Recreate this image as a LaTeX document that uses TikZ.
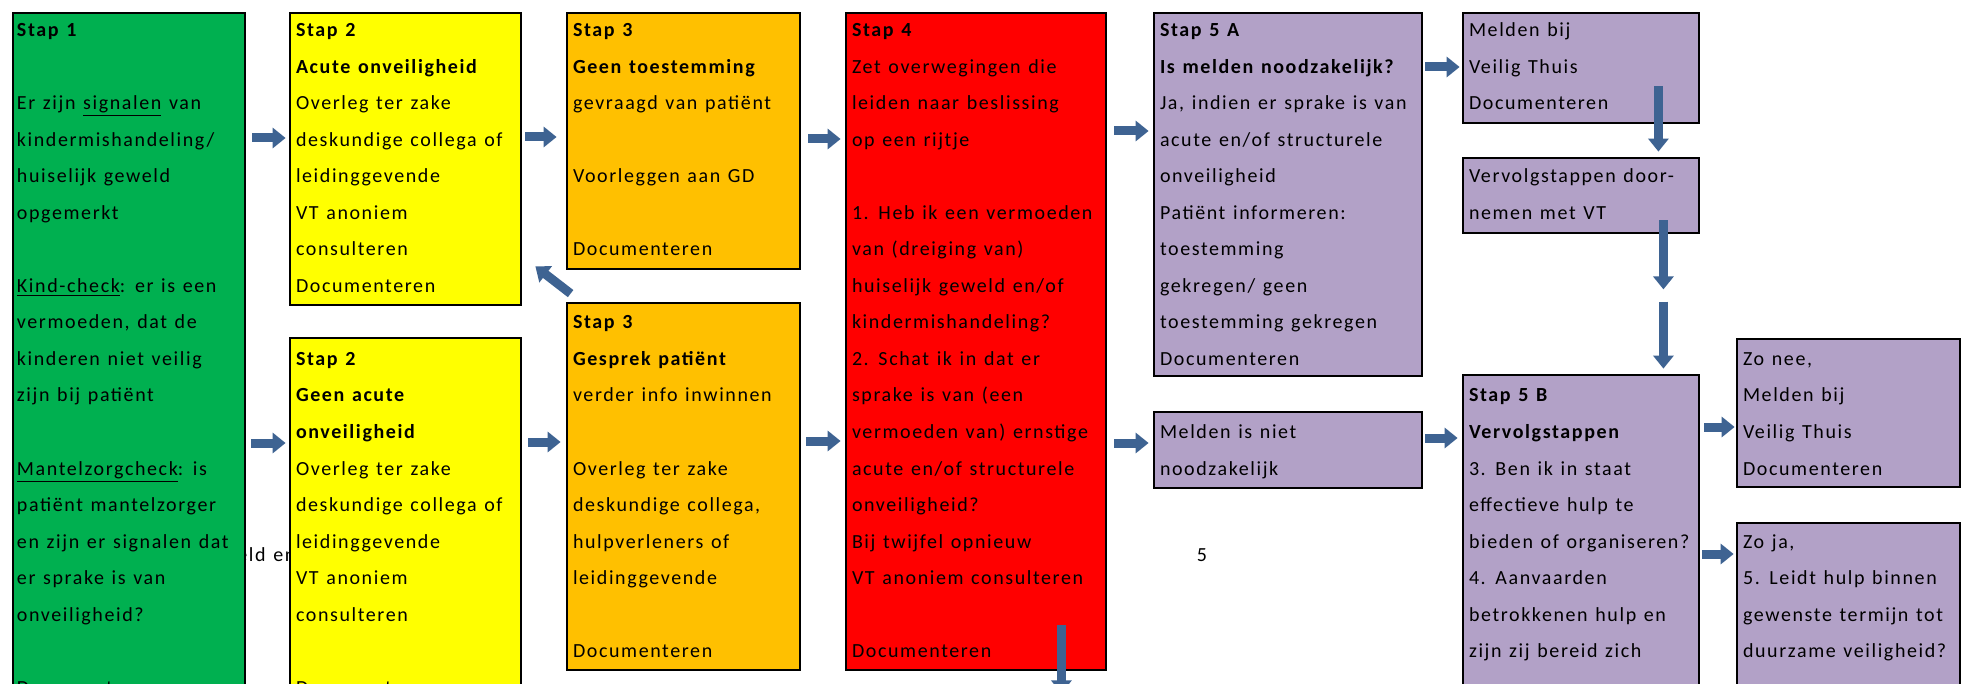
\documentclass[tikz,border=0pt]{standalone}
\usepackage{fontspec}
\setmainfont{Carlito}[LetterSpace=8, WordSpace=1.25]
\usetikzlibrary{positioning, arrows.meta, calc, fit}

\definecolor{stapgroen}{RGB}{0,176,80}
\definecolor{stapgeel}{RGB}{255,255,0}
\definecolor{staporanje}{RGB}{255,192,0}
\definecolor{staprood}{RGB}{255,0,0}
\definecolor{staplila}{RGB}{178,161,199}
\definecolor{pijlblauw}{RGB}{62,99,146}

\tikzset{
  stapbox/.style={draw=black, line width=1.4pt, inner sep=0pt, fill=#1},
  tekst/.style={anchor=north west, inner sep=0pt, align=left, font=\fontsize{10pt}{18.275pt}\selectfont},
  pijl/.style={draw=pijlblauw, line width=4.5pt, -{Triangle[width=10pt,length=6.5pt]}}
}

\begin{document}
\begin{tikzpicture}[x=0.5pt, y=-0.5pt]
    \useasboundingbox (0,0) rectangle (1962,684);
    \clip (0,0) rectangle (1962,684);
    \fill[white] (0,0) rectangle (1962,684);
    % Paginatekst achter de vakken
    \node[tekst, anchor=base west] (achter) at (237,561) {eld en};
    \node[tekst, anchor=base] (paginanr) at (1202,561) {5};
    % Vakken stap 1 t/m 4
    \node[stapbox=stapgroen, fit={(13,13) (245,720)}] (stap1) {};
    \node[stapbox=stapgeel, fit={(290,13) (521,305)}] (stap2a) {};
    \node[stapbox=stapgeel, fit={(290,338) (521,720)}] (stap2b) {};
    \node[stapbox=staporanje, fit={(567,13) (800,269)}] (stap3a) {};
    \node[stapbox=staporanje, fit={(567,303) (800,670)}] (stap3b) {};
    \node[stapbox=staprood, fit={(846,13) (1106,670)}] (stap4) {};
    % Vakken stap 5
    \node[stapbox=staplila, fit={(1154,13) (1422,376)}] (stap5a) {};
    \node[stapbox=staplila, fit={(1463,13) (1699,123)}] (melden) {};
    \node[stapbox=staplila, fit={(1463,158) (1699,233)}] (vervolg) {};
    \node[stapbox=staplila, fit={(1154,412) (1422,488)}] (nietnodig) {};
    \node[stapbox=staplila, fit={(1463,375) (1699,720)}] (stap5b) {};
    \node[stapbox=staplila, fit={(1737,339) (1960,487)}] (zonee) {};
    \node[stapbox=staplila, fit={(1737,523) (1960,720)}] (zoja) {};

    % Teksten
    \node[tekst] (t1) at ($(stap1.north west)+(5,-1.1)$) {\strut\textbf{Stap 1}\\ \mbox{}\\ Er zijn \underline{signalen} van\\ kindermishandeling/\\ huiselijk geweld\\ opgemerkt\\ \mbox{}\\ \underline{Kind-check}: er is een\\ vermoeden, dat de\\ kinderen niet veilig\\ zijn bij patiënt\\ \mbox{}\\ \underline{Mantelzorgcheck}: is\\ patiënt mantelzorger\\ en zijn er signalen dat\\ er sprake is van\\ onveiligheid?\\ \mbox{}\\ Documenteren};
    \node[tekst] (t2a) at ($(stap2a.north west)+(7,-1.1)$) {\strut\textbf{Stap 2}\\ \textbf{Acute onveiligheid}\\ Overleg ter zake\\ deskundige collega of\\ leidinggevende\\ VT anoniem\\ consulteren\\ Documenteren};
    \node[tekst] (t2b) at ($(stap2b.north west)+(7,2.85)$) {\strut\textbf{Stap 2}\\ \textbf{Geen acute}\\ \textbf{onveiligheid}\\ Overleg ter zake\\ deskundige collega of\\ leidinggevende\\ VT anoniem\\ consulteren\\ \mbox{}\\ Documenteren};
    \node[tekst] (t3a) at ($(stap3a.north west)+(7,-1.1)$) {\strut\textbf{Stap 3}\\ \textbf{Geen toestemming}\\ gevraagd van patiënt\\ \mbox{}\\ Voorleggen aan GD\\ \mbox{}\\ Documenteren};
    \node[tekst] (t3b) at ($(stap3b.north west)+(7,1.3)$) {\strut\textbf{Stap 3}\\ \textbf{Gesprek patiënt}\\ verder info inwinnen\\ \mbox{}\\ Overleg ter zake\\ deskundige collega,\\ hulpverleners of\\ leidinggevende\\ \mbox{}\\ Documenteren};
    \node[tekst] (t4) at ($(stap4.north west)+(7,-1.1)$) {\strut\textbf{Stap 4}\\ Zet overwegingen die\\ leiden naar beslissing\\ op een rijtje\\ \mbox{}\\ 1. Heb ik een vermoeden\\ van (dreiging van)\\ huiselijk geweld en/of\\ kindermishandeling?\\ 2. Schat ik in dat er\\ sprake is van (een\\ vermoeden van) ernstige\\ acute en/of structurele\\ onveiligheid?\\ Bij twijfel opnieuw\\ VT anoniem consulteren\\ \mbox{}\\ Documenteren};
    \node[tekst] (t5a) at ($(stap5a.north west)+(7,-1.1)$) {\strut\textbf{Stap 5 A}\\ \textbf{Is melden noodzakelijk?}\\ Ja, indien er sprake is van\\ acute en/of structurele\\ onveiligheid\\ Patiënt informeren:\\ toestemming\\ gekregen/ geen\\ toestemming gekregen\\ Documenteren};
    \node[tekst] (tmelden) at ($(melden.north west)+(7,-1.1)$) {\strut Melden bij\\ Veilig Thuis\\ Documenteren};
    \node[tekst] (tvervolg) at ($(vervolg.north west)+(7,0.1)$) {\strut Vervolgstappen door-\\ nemen met VT};
    \node[tekst] (tniet) at ($(nietnodig.north west)+(7,1.95)$) {\strut Melden is niet\\ noodzakelijk};
    \node[tekst] (t5b) at ($(stap5b.north west)+(7,2.4)$) {\strut\textbf{Stap 5 B}\\ \textbf{Vervolgstappen}\\ 3. Ben ik in staat\\ effectieve hulp te\\ bieden of organiseren?\\ 4. Aanvaarden\\ betrokkenen hulp en\\ zijn zij bereid zich};
    \node[tekst] (tzonee) at ($(zonee.north west)+(7,1.85)$) {\strut Zo nee,\\ Melden bij\\ Veilig Thuis\\ Documenteren};
    \node[tekst] (tzoja) at ($(zoja.north west)+(7,0.6)$) {\strut Zo ja,\\ 5. Leidt hulp binnen\\ gewenste termijn tot\\ duurzame veiligheid?};

    % Pijlen
    \draw[pijl] ($(stap1.east|-stap2a.west)+(6,-21)$) -- ($(stap2a.west)+(-3,-21)$);
    \draw[pijl] ($(stap1.east|-stap2b.west)+(5,-86)$) -- ($(stap2b.west)+(-3,-86)$);
    \draw[pijl] ($(stap2a.east)+(3,-22)$) -- ($(stap3a.west|-stap2a.east)+(-9,-22)$);
    \draw[pijl] ($(stap2b.east)+(6,-87)$) -- ($(stap3b.west|-stap2b.east)+(-5,-87)$);
    \draw[pijl] ($(stap3b.north west)+(5,-8)$) -- ($(stap2a.south east)+(13,-40)$);
    \draw[pijl] ($(stap3a.east)+(7,-2)$) -- ($(stap4.west|-stap3a.east)+(-4,-2)$);
    \draw[pijl] ($(stap3b.east)+(5,-45.5)$) -- ($(stap4.west|-stap3b.east)+(-4,-45.5)$);
    \draw[pijl] ($(stap4.east|-stap5a.west)+(7,-63.5)$) -- ($(stap5a.west)+(-4,-63.5)$);
    \draw[pijl] ($(stap4.east|-nietnodig.west)+(7,-7)$) -- ($(nietnodig.west)+(-4,-7)$);
    \draw[pijl] ($(stap5a.east|-melden.west)+(2,-1)$) -- ($(melden.west)+(-2,-1)$);
    \draw[pijl] ($(melden.south east)+(-42,-38)$) -- ($(vervolg.north east)+(-42,-5)$);
    \coordinate (tussen1) at ($(vervolg.south east)+(-37,55)$);
    \coordinate (tussen2) at ($(stap5b.north east)+(-37,-72)$);
    \draw[pijl] ($(vervolg.south east)+(-37,-14)$) -- (tussen1);
    \draw[pijl] (tussen2) -- ($(stap5b.north east)+(-37,-5)$);
    \draw[pijl] ($(nietnodig.east)+(2,-12)$) -- ($(stap5b.west|-nietnodig.east)+(-4,-12)$);
    \draw[pijl] ($(stap5b.east|-zonee.west)+(4,14)$) -- ($(zonee.west)+(-1,14)$);
    \draw[pijl] ($(stap5b.east|-zoja.west)+(2,-67.5)$) -- ($(zoja.west)+(-2,-67.5)$);
    \coordinate (uitloop) at ($(stap4.south east)+(-46,22)$);
    \draw[pijl] ($(stap4.south east)+(-46,-46)$) -- (uitloop);
\end{tikzpicture}
\end{document}
